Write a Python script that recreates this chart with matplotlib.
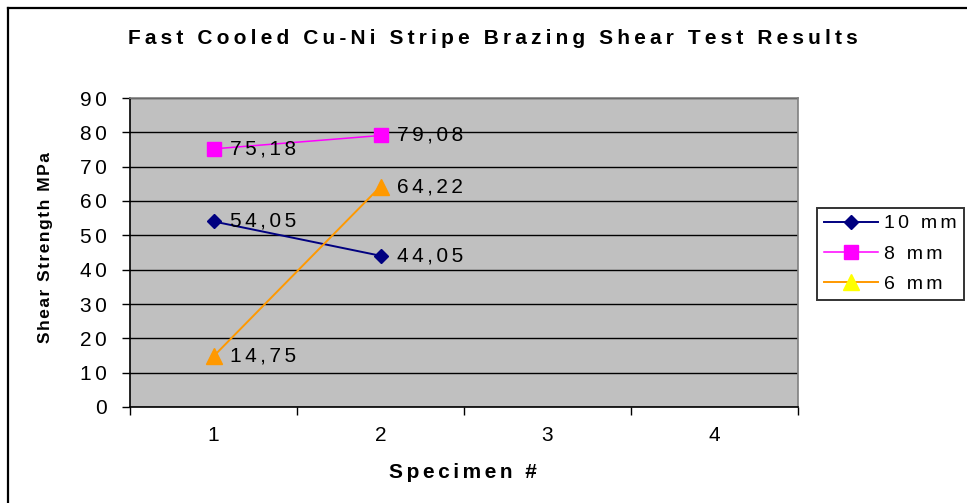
import matplotlib
matplotlib.use('Agg')
import matplotlib.pyplot as plt
from matplotlib.lines import Line2D

plt.rcParams['font.family'] = ['Liberation Sans', 'DejaVu Sans']

# Данные
specimens = [1, 2]
series_names = ['10 mm', '8 mm', '6 mm']
strength_10mm = [54.05, 44.05]
strength_8mm = [75.18, 79.08]
strength_6mm = [14.75, 64.22]
x_ticks = [1, 2, 3, 4]
y_ticks = [0, 10, 20, 30, 40, 50, 60, 70, 80, 90]

FS = 15


def spaced(s, gap='\u2006'):
    # Excel-подобная разрядка символов
    return gap.join(s)


def fmt(v):
    return spaced(f'{v:.2f}'.replace('.', ','))


fig = plt.figure(figsize=(9.67, 5.03), dpi=100)
ax = fig.add_axes([130 / 967, 1 - 407 / 503, 668 / 967, 309 / 503])
ax.set_facecolor('#C0C0C0')

series = [
    (strength_10mm, '#000080', 'D', 7.3, 1.4),
    (strength_8mm, '#FF00FF', 's', 10, 1.1),
    (strength_6mm, '#FF9900', '^', 11.5, 1.4),
]
for vals, col, mk, ms, lw in series:
    ax.plot(specimens, vals, color=col, marker=mk, markersize=ms,
            markerfacecolor=col, markeredgecolor=col, linewidth=lw, zorder=3)
    for x, v in zip(specimens, vals):
        ax.annotate(fmt(v), (x, v), xytext=(12, 0), textcoords='offset points',
                    va='center', ha='left', fontsize=FS, zorder=4)

ax.set_xlim(0.5, 4.5)
ax.set_ylim(0, 90)
ax.set_yticks(y_ticks)
ax.set_yticklabels([spaced(str(t)) for t in y_ticks], fontsize=FS)
ax.set_xticks(x_ticks)
ax.set_xticklabels([str(t) for t in x_ticks], fontsize=FS)
ax.set_xticks([0.5, 1.5, 2.5, 3.5, 4.5], minor=True)
ax.tick_params(axis='x', which='major', length=0, pad=14)
ax.tick_params(axis='x', which='minor', length=6, width=1, color='black')
ax.tick_params(axis='y', length=6, width=1, pad=11)
ax.grid(axis='y', color='black', linewidth=1)
ax.set_axisbelow(True)
for side in ['top', 'right']:
    ax.spines[side].set_color('#808080')
    ax.spines[side].set_linewidth(1.2)
for side in ['left', 'bottom']:
    ax.spines[side].set_color('black')
    ax.spines[side].set_linewidth(1.2)

fig.text(493 / 967, 1 - 38 / 503, spaced('Fast Cooled Cu-Ni Stripe Brazing Shear Test Results', '\u2009'),
         ha='center', va='center', fontsize=FS, fontweight='bold')
fig.text(463 / 967, 1 - 472 / 503, spaced('Specimen #'),
         ha='center', va='center', fontsize=FS, fontweight='bold')
fig.text(46 / 967, 1 - 248 / 503, spaced('Shear Strength MPa', '\u200a'),
         ha='center', va='center', rotation=90, fontsize=12.5, fontweight='bold')

# Легенда (в Excel треугольник в легенде жёлтый)
handles = [
    Line2D([], [], color='#000080', marker='D', markersize=7.3, linewidth=1.4),
    Line2D([], [], color='#FF00FF', marker='s', markersize=10, linewidth=1.1),
    Line2D([], [], color='#FF9900', marker='^', markersize=11.5, linewidth=1.4,
           markerfacecolor='#FFFF00', markeredgecolor='#FFFF00'),
]
leg = fig.legend(handles, [spaced(s) for s in series_names], loc='upper left',
                 bbox_to_anchor=(817 / 967, 1 - 208 / 503), fontsize=14,
                 frameon=True, fancybox=False, edgecolor='black', handlelength=2.8,
                 handletextpad=0.3, borderpad=0.35, labelspacing=0.65, borderaxespad=0)
leg.get_frame().set_linewidth(1.4)

# Рамка рисунка слева и сверху
fig.add_artist(Line2D([7.5 / 967, 7.5 / 967], [0, 1 - 7.5 / 503], color='black', linewidth=1.6))
fig.add_artist(Line2D([7.5 / 967, 1], [1 - 7.5 / 503, 1 - 7.5 / 503], color='black', linewidth=1.6))

fig.savefig('out.png', dpi=100)
